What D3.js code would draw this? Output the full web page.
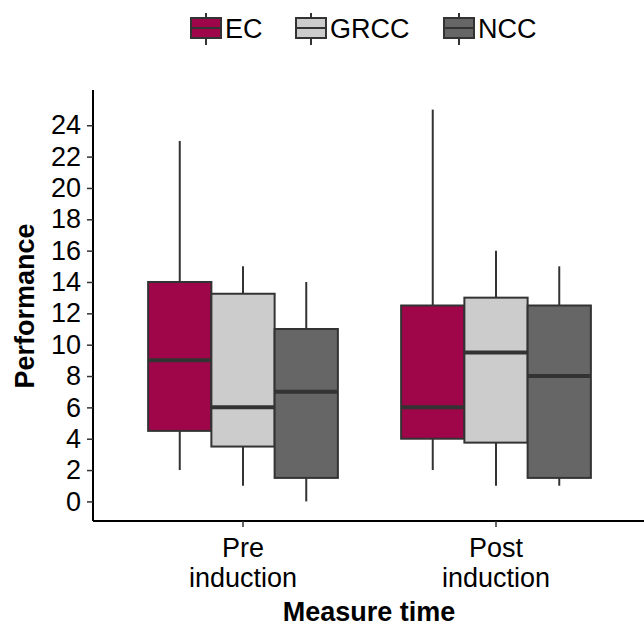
<!DOCTYPE html>
<html>
<head>
<meta charset="utf-8">
<script src="https://cdn.jsdelivr.net/npm/d3@7"></script>
<style>
  body { margin: 0; background: #fff; }
  text { font-family: "Liberation Sans", Arial, sans-serif; fill: #000; }
</style>
</head>
<body>
<div id="chart"></div>
<script>
// chart size
var svgWidth = 644;
var svgHeight = 627;

// data
var times = ["Pre\ninduction", "Post\ninduction"];
var groups = ["EC", "GRCC", "NCC"];
var colors = ["#9e0649", "#cccccc", "#666666"];
// per time, per group: [lower whisker, Q1, median, Q3, upper whisker]
var preStats = [[2, 4.5, 9, 14, 23], [1, 3.5, 6, 13.25, 15], [0, 1.5, 7, 11, 14]];
var postStats = [[2, 4, 6, 12.5, 25], [1, 3.75, 9.5, 13, 16], [1, 1.5, 8, 12.5, 15]];
var yTicks = [0, 2, 4, 6, 8, 10, 12, 14, 16, 18, 20, 22, 24];

var boxes = [];
[preStats, postStats].forEach(function(st, i) {
  st.forEach(function(s, j) {
    boxes.push({time: times[i], group: groups[j], lo: s[0], q1: s[1], med: s[2], q3: s[3], hi: s[4]});
  });
});

var svg = d3.select("#chart").append("svg")
  .attr("width", svgWidth)
  .attr("height", svgHeight);

// plot panel
var panel = {left: 93, top: 90, bottom: 521};

// discrete x, first category centre about 0.6 band from the axis
var step = 253;
var firstCentre = 243;
var x = d3.scaleBand().domain(times)
  .range([firstCentre - step / 2, firstCentre + step * 1.5])
  .paddingInner(0).paddingOuter(0);
var xSub = d3.scaleBand().domain(groups).range([-0.375 * step, 0.375 * step]);
var y = d3.scaleLinear().domain([-1.25, 26.25]).range([panel.bottom, panel.top]);
var color = d3.scaleOrdinal().domain(groups).range(colors);

var plot = svg.append("g");

var g = plot.selectAll("g.box")
  .data(boxes)
  .enter()
  .append("g")
  .attr("class", "box")
  .attr("transform", d => `translate(${x(d.time) + x.bandwidth() / 2 + xSub(d.group)},0)`);

var bw = xSub.bandwidth();

// whiskers
g.append("line")
  .attr("x1", bw / 2).attr("x2", bw / 2)
  .attr("y1", d => y(d.hi)).attr("y2", d => y(d.q3))
  .attr("stroke", "#333").attr("stroke-width", 2);
g.append("line")
  .attr("x1", bw / 2).attr("x2", bw / 2)
  .attr("y1", d => y(d.q1)).attr("y2", d => y(d.lo))
  .attr("stroke", "#333").attr("stroke-width", 2);

// boxes
g.append("rect")
  .attr("x", 0)
  .attr("width", bw)
  .attr("y", d => y(d.q3))
  .attr("height", d => y(d.q1) - y(d.q3))
  .attr("fill", d => color(d.group))
  .attr("stroke", "#333")
  .attr("stroke-width", 2);

// medians
g.append("line")
  .attr("x1", 0).attr("x2", bw)
  .attr("y1", d => y(d.med)).attr("y2", d => y(d.med))
  .attr("stroke", "#333").attr("stroke-width", 4);

// y axis
var yAxis = svg.append("g")
  .attr("transform", `translate(${panel.left},0)`)
  .call(d3.axisLeft(y).tickValues(yTicks).tickSize(6).tickPadding(6));
yAxis.select(".domain").attr("d", `M0,${panel.top}V${panel.bottom}`).attr("stroke", "#000").attr("stroke-width", 2);
yAxis.selectAll(".tick line").attr("stroke", "#333").attr("stroke-width", 1.5);
yAxis.selectAll(".tick text").attr("font-size", 27).attr("fill", "#1a1a1a")
  .style("font-family", "'Liberation Sans', Arial, sans-serif");

// x axis
var xAxis = svg.append("g")
  .attr("transform", `translate(0,${panel.bottom})`)
  .call(d3.axisBottom(x).tickSize(6).tickFormat(""));
xAxis.select(".domain").attr("d", `M${panel.left},0H${svgWidth}`).attr("stroke", "#000").attr("stroke-width", 2);
xAxis.selectAll(".tick line").attr("stroke", "#333").attr("stroke-width", 1.5);
xAxis.selectAll(".tick").each(function(d) {
  var t = d3.select(this).append("text")
    .attr("text-anchor", "middle")
    .attr("font-size", 27)
    .attr("fill", "#1a1a1a");
  d.split("\n").forEach(function(line, i) {
    t.append("tspan").attr("x", 0).attr("y", 36 + i * 30).text(line);
  });
});

// axis titles
svg.append("text")
  .attr("x", 369).attr("y", 621)
  .attr("text-anchor", "middle")
  .attr("font-size", 27).attr("font-weight", "bold")
  .text("Measure time");

svg.append("text")
  .attr("transform", "rotate(-90)")
  .attr("x", -306).attr("y", 34)
  .attr("text-anchor", "middle")
  .attr("font-size", 27).attr("font-weight", "bold")
  .text("Performance");

// legend
var legendX = [190, 295, 443];
var legend = svg.selectAll("g.legend")
  .data(groups)
  .enter()
  .append("g")
  .attr("class", "legend")
  .attr("transform", (d, i) => `translate(${legendX[i]},0)`);

legend.append("line")
  .attr("x1", 16).attr("x2", 16).attr("y1", 13).attr("y2", 45)
  .attr("stroke", "#333").attr("stroke-width", 2);
legend.append("rect")
  .attr("x", 1).attr("y", 18).attr("width", 30).attr("height", 20)
  .attr("fill", d => color(d)).attr("stroke", "#333").attr("stroke-width", 2);
legend.append("line")
  .attr("x1", 1).attr("x2", 31).attr("y1", 28).attr("y2", 28)
  .attr("stroke", "#333").attr("stroke-width", 2);
legend.append("text")
  .attr("x", 35).attr("y", 38)
  .attr("font-size", 27)
  .text(d => d);
</script>
</body>
</html>
